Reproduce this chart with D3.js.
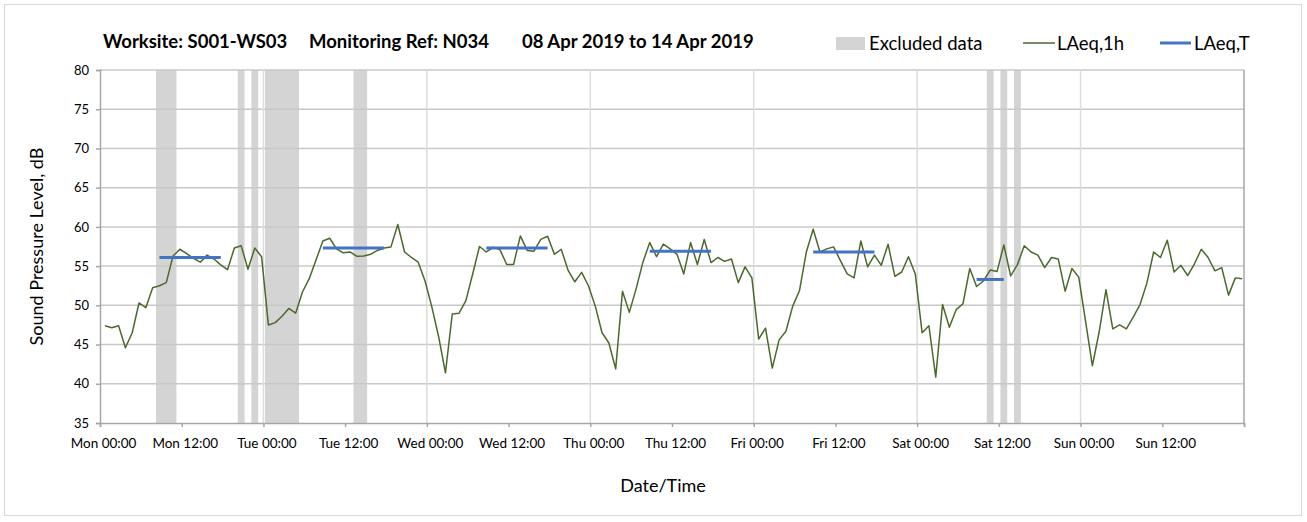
<!DOCTYPE html>
<html><head><meta charset="utf-8">
<script src="https://cdn.jsdelivr.net/npm/d3@7"></script>
<style>body{margin:0;background:#fff} text{font-family:Lato,"Open Sans",sans-serif;fill:#000}</style>
</head><body><svg id="c" width="1307" height="522"></svg>
<script>
const titleParts = ["Worksite: S001-WS03", "Monitoring Ref: N034", "08 Apr 2019 to 14 Apr 2019"];
const seriesNames = ["Excluded data", "LAeq,1h", "LAeq,T"];
const xTickLabels = ["Mon 00:00","Mon 12:00","Tue 00:00","Tue 12:00","Wed 00:00","Wed 12:00","Thu 00:00","Thu 12:00","Fri 00:00","Fri 12:00","Sat 00:00","Sat 12:00","Sun 00:00","Sun 12:00",""];
const yTicks = [35,40,45,50,55,60,65,70,75,80];
const xTitle = "Date/Time";
const yTitle = "Sound Pressure Level, dB";
// hourly readings, first reading offset (hours from Mon 00:00)
const firstReadingHour = 0.73;
const laeq1h = [
47.4,47.15,47.4,44.6,46.5,50.3,49.7,52.25,52.5,52.9,56.3,57.15,56.6,56.0,55.5,56.4,55.9,55.15,54.55,57.3,57.6,54.6,57.3,56.2,
47.5,47.8,48.6,49.6,49.0,51.7,53.4,55.8,58.2,58.55,57.2,56.7,56.8,56.25,56.3,56.5,57.0,57.3,57.45,60.3,56.8,56.1,55.5,53.1,
49.8,46.0,41.4,48.9,49.0,50.6,54.0,57.5,56.8,57.4,57.1,55.2,55.2,58.85,57.0,56.9,58.4,58.8,56.5,57.15,54.5,53.0,54.2,52.5,
49.9,46.5,45.2,41.9,51.8,49.1,52.1,55.5,58.0,56.2,57.8,57.2,56.5,54.0,58.0,55.2,58.4,55.45,56.1,55.6,55.9,52.9,54.9,53.5,
45.7,47.1,42.0,45.6,46.7,49.9,51.9,56.8,59.7,56.8,57.2,57.45,55.7,54.0,53.5,58.2,54.9,56.4,55.1,57.8,53.7,54.25,56.2,54.0,
46.5,47.4,40.85,50.1,47.2,49.45,50.2,54.7,52.4,53.1,54.5,54.3,57.7,53.75,55.2,57.6,56.8,56.4,54.8,56.1,55.9,51.8,54.7,53.6,
48.0,42.3,46.6,52.0,47.0,47.5,47.0,48.5,50.1,52.8,56.8,56.1,58.3,54.25,55.1,53.8,55.3,57.15,56.1,54.4,54.8,51.3,53.5,53.4
];
// excluded readings (index ranges, inclusive)
const excludedFrom = [8,20,22,24,37,130,132,134];
const excludedTo   = [10,20,22,28,38,130,132,134];
// LAeq,T periods (reading index ranges) and levels
const laeqTFrom  = [8,32,56,80,104,128];
const laeqTTo    = [17,41,65,89,113,132];
const laeqTValue = [56.1,57.3,57.3,56.9,56.8,53.3];

const svg = d3.select("#c");
const L = 100, R = 1244, T = 70, B = 423;
const x = d3.scaleLinear().domain([0,168]).range([L,R]);
const y = d3.scaleLinear().domain([35,80]).range([B,T]);
const hr = i => firstReadingHour + i;

// outer border
svg.append("rect").attr("x",4.5).attr("y",4.5).attr("width",1297).attr("height",511)
  .attr("fill","none").attr("stroke","#d9d9d9");

// excluded bands
svg.append("g").selectAll("rect").data(excludedFrom).join("rect")
  .attr("x",(d)=>x(hr(d)-0.5))
  .attr("width",(d,i)=>x(hr(excludedTo[i])+0.5)-x(hr(d)-0.5))
  .attr("y",T).attr("height",B-T).attr("fill","#d4d4d4");

// horizontal gridlines
svg.append("g").selectAll("line").data(yTicks.filter(v=>v>35)).join("line")
  .attr("x1",L).attr("x2",R).attr("y1",d=>y(d)).attr("y2",d=>y(d))
  .attr("stroke","#c8c8c8").attr("stroke-width",1.5);
// vertical gridlines at day boundaries
const dayTicks = d3.range(24,168,24);
svg.append("g").selectAll("line").data(dayTicks).join("line")
  .attr("x1",d=>x(d)).attr("x2",d=>x(d)).attr("y1",T).attr("y2",B)
  .attr("stroke","#dcdcdc").attr("stroke-width",1.5);
// right border line
svg.append("line").attr("x1",R).attr("x2",R).attr("y1",T).attr("y2",B).attr("stroke","#a6a6a6").attr("stroke-width",1.5);

// axes
const xAxis = d3.axisBottom(x).tickValues(d3.range(0,169,12)).tickSize(4).tickFormat((d,i)=>xTickLabels[i]);
const gx = svg.append("g").attr("transform",`translate(0,${B})`).call(xAxis);
gx.select(".domain").attr("stroke","#a6a6a6").attr("stroke-width",1.5);
gx.selectAll(".tick line").attr("stroke","#a6a6a6").attr("stroke-width",1.5);
gx.selectAll("text").attr("font-size",13.5).attr("y",25).attr("dy",0).attr("dx",3).style("font-family","Lato");

const yAxis = d3.axisLeft(y).tickValues(yTicks).tickSize(4).tickFormat(d3.format("d"));
const gy = svg.append("g").attr("transform",`translate(${L},0)`).call(yAxis);
gy.select(".domain").attr("stroke","#a6a6a6").attr("stroke-width",1.5);
gy.selectAll(".tick line").attr("stroke","#a6a6a6").attr("stroke-width",1.5);
gy.selectAll("text").attr("font-size",13).attr("x",-11).style("font-family","Lato");

// LAeq,1h line
svg.append("path").datum(laeq1h)
  .attr("d",d3.line().x((d,i)=>x(hr(i))).y(d=>y(d)))
  .attr("fill","none").attr("stroke","#4a6a2c").attr("stroke-width",1.5).attr("stroke-linejoin","round");

// LAeq,T segments
svg.append("g").selectAll("line").data(laeqTValue).join("line")
  .attr("x1",(d,i)=>x(hr(laeqTFrom[i]))).attr("x2",(d,i)=>x(hr(laeqTTo[i])))
  .attr("y1",d=>y(d)).attr("y2",d=>y(d))
  .attr("stroke","#4472c4").attr("stroke-width",3);

// title
const titleX = [103,309,522];
svg.append("g").selectAll("text").data(titleParts).join("text")
  .attr("x",(d,i)=>titleX[i]).attr("y",48).attr("font-size",18.5).attr("font-weight","bold").text(d=>d);

// legend
const lg = svg.append("g");
lg.append("rect").attr("x",836).attr("y",37).attr("width",29).attr("height",13).attr("fill","#d4d4d4");
lg.append("text").attr("x",869).attr("y",50).attr("font-size",18.5).text(seriesNames[0]);
lg.append("line").attr("x1",1023).attr("x2",1055).attr("y1",43).attr("y2",43).attr("stroke","#4a6a2c").attr("stroke-width",1.5);
lg.append("text").attr("x",1057).attr("y",50).attr("font-size",18.5).text(seriesNames[1]);
lg.append("line").attr("x1",1160).attr("x2",1191).attr("y1",43).attr("y2",43).attr("stroke","#4472c4").attr("stroke-width",3);
lg.append("text").attr("x",1194).attr("y",50).attr("font-size",18.5).text(seriesNames[2]);

// axis titles
svg.append("text").attr("x",663).attr("y",492).attr("text-anchor","middle").attr("font-size",18).text(xTitle);
svg.append("text").attr("transform",`translate(43,${(T+B)/2}) rotate(-90)`).attr("text-anchor","middle").attr("font-size",18).text(yTitle);
</script></body></html>
